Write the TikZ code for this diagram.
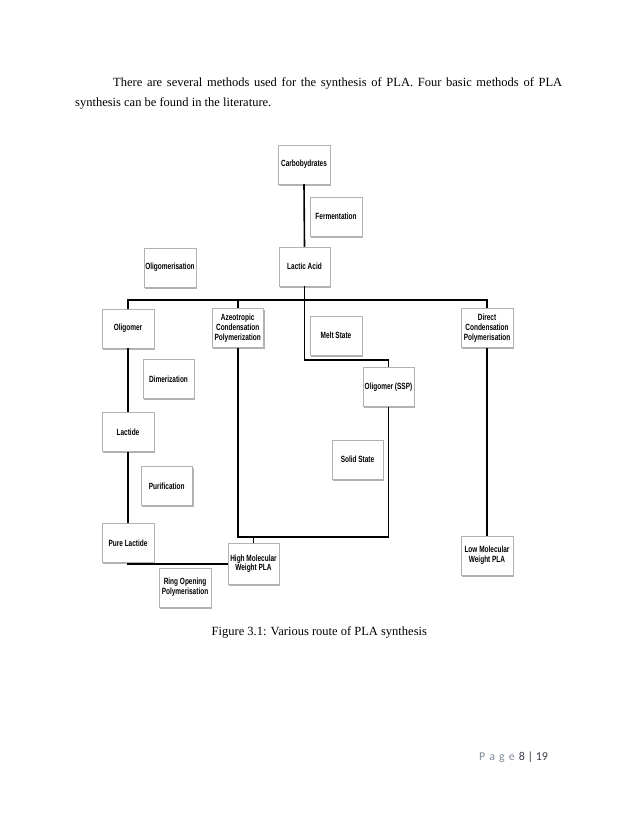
\documentclass[tikz,border=0pt]{standalone}
\usepackage{fontspec}
\setmainfont{Liberation Serif}
\newfontfamily\boxfont[FakeStretch=0.72]{Liberation Sans}
\newfontfamily\footfont{Carlito}
\usetikzlibrary{shadows}
\definecolor{footgray}{RGB}{128,140,155}
\definecolor{footdark}{RGB}{60,60,70}
\begin{document}
\begin{tikzpicture}[x=1pt,y=-1pt,
  stagebox/.style={draw=black!30, line width=0.5pt, fill=white, minimum width=51.5pt, minimum height=39pt,
    inner sep=1pt, align=center, font=\boxfont\bfseries\fontsize{9}{9.9}\selectfont,
    drop shadow={shadow xshift=1.2pt, shadow yshift=-1.6pt, fill=black, opacity=0.3}},
  link/.style={line width=1.6pt, black},
  bodytext/.style={anchor=base west, inner sep=0pt, font=\fontsize{12.5}{15}\selectfont}]
\useasboundingbox (0,0) rectangle (638,826);
% body text
\node[bodytext] (t1) at (113,86.5)
  {\makebox[449pt][s]{There are several methods used for the synthesis of PLA. Four basic methods of PLA}};
\node[bodytext] (t2) at (75,106.5)
  {synthesis can be found in the literature.};
% boxes
\node[stagebox] (carb) at (304,164.5) {Carbobydrates};
\node[stagebox] (ferm) at (336,216.5) {Fermentation};
\node[stagebox] (lactic) at (304.5,266.5) {Lactic Acid};
\node[stagebox] (oligo) at (170,267.5) {Oligomerisation};
\node[stagebox] (olig) at (128,328.5) {Oligomer};
\node[stagebox] (azeo) at (237.7,328) {Azeotropic\\Condensation\\Polymerization};
\node[stagebox] (melt) at (336,335.5) {Melt State};
\node[stagebox] (direct) at (487,328) {Direct\\Condensation\\Polymerisation};
\node[stagebox] (ssp) at (388.5,387) {Oligomer (SSP)};
\node[stagebox] (dimer) at (168.5,379) {Dimerization};
\node[stagebox] (lactide) at (128,432) {Lactide};
\node[stagebox] (solid) at (357.5,459.5) {Solid State};
\node[stagebox] (purif) at (166.7,486) {Purification};
\node[stagebox] (pure) at (128,543) {Pure Lactide};
\node[stagebox, minimum height=40.5pt] (hmw) at (253.5,563.7) {High Molecular\\Weight PLA};
\node[stagebox] (rop) at (185,587.5) {Ring Opening\\Polymerisation};
\node[stagebox] (lmw) at (487,555.5) {Low Molecular\\Weight PLA};
% junction levels
\coordinate (bus) at (0,300);
\coordinate (mj) at (0,360);
\coordinate (bj) at (0,537);
% connectors
\draw[link] (carb.south) -- (lactic.north);
\draw[link] (olig.north) -- (olig.north |- bus) -- (direct.north |- bus) -- (direct.north);
\draw[link] (azeo.north) -- (azeo.north |- bus);
\draw[link] (lactic.south) -- (lactic.south |- mj) -| (ssp.north);
\draw[link] (olig.south) -- (lactide.north);
\draw[link] (lactide.south) -- (pure.north);
\draw[link] (azeo.south) -- (azeo.south |- bj) -| (ssp.south);
\draw[link] (hmw.north) -- (hmw.north |- bj);
\draw[link] (pure.south) |- (hmw.west);
\draw[link] (direct.south) -- (lmw.north);
% caption
\node[bodytext] (cap) at (211.5,635)
  {Figure 3.1: Various route of PLA synthesis};
% footer
\node[anchor=base west, inner sep=0pt, font=\footfont\fontsize{12}{14}\selectfont] (foot) at (479,760.5)
  {\textcolor{footgray}{P\,\,a\,\,g\,\,e}\,\,\textcolor{footdark}{8 | 19}};
\end{tikzpicture}
\end{document}
